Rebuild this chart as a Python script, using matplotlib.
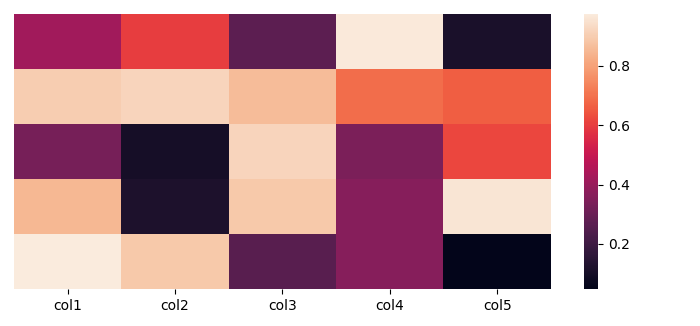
import matplotlib
matplotlib.use("Agg")
import matplotlib.pyplot as plt
import seaborn as sns
import pandas as pd
import numpy as np

columns = ["col1", "col2", "col3", "col4", "col5"]
row0 = [0.42, 0.60, 0.27, 0.97, 0.11]
row1 = [0.90, 0.92, 0.86, 0.69, 0.66]
row2 = [0.33, 0.10, 0.92, 0.34, 0.62]
row3 = [0.85, 0.12, 0.89, 0.36, 0.96]
row4 = [0.975, 0.89, 0.26, 0.36, 0.048]

df = pd.DataFrame([row0, row1, row2, row3, row4], columns=columns)

fig = plt.figure(figsize=(7, 3.26), dpi=100)
ax = fig.add_axes([0.02, 1 - 289 / 326, 0.9586, 275 / 326])
sns.heatmap(df, ax=ax, yticklabels=False)
fig.savefig("out.png", dpi=100)
